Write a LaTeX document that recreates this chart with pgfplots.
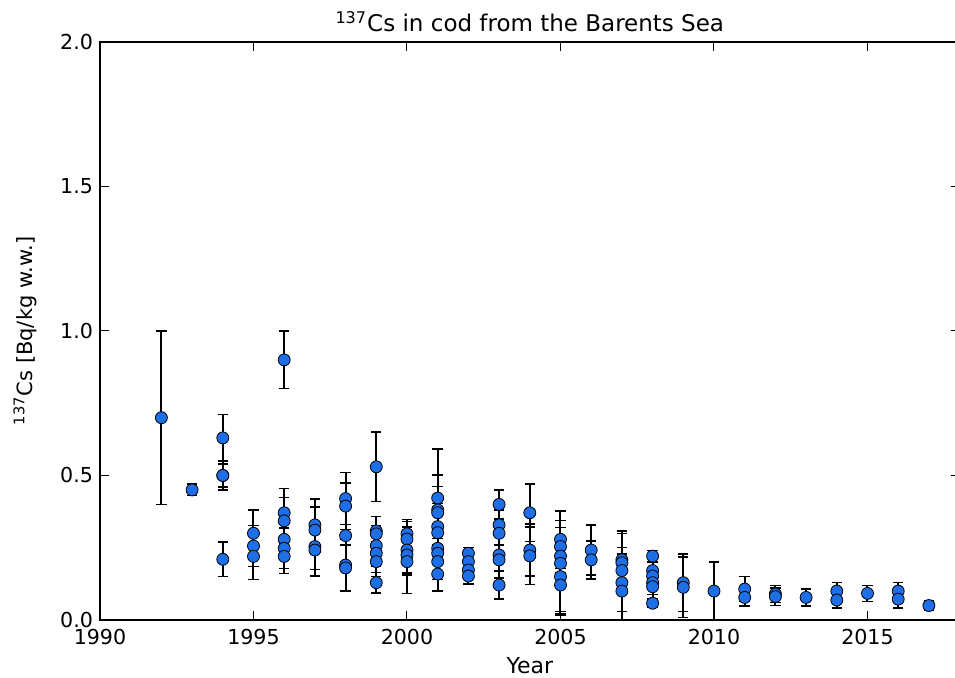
\documentclass[border=0pt]{standalone}
\usepackage{pgfplots}
\pgfplotsset{compat=1.18}
\usepackage{pgfplotstable}
\usepackage{fontspec}
\setmainfont{DejaVu Sans}
\definecolor{cblue}{RGB}{30,110,230}

% year, Cs-137 (Bq/kg w.w.), uncertainty
\pgfplotstableread{
x y e
1992 0.70 0.30
1993 0.45 0.02
1994 0.63 0.08
1994 0.50 0.05
1994 0.50 0.04
1994 0.21 0.06
1995 0.30 0.08
1995 0.256 0.07
1995 0.22 0.08
1996 0.90 0.10
1996 0.371 0.085
1996 0.343 0.08
1996 0.279 0.07
1996 0.248 0.07
1996 0.22 0.06
1997 0.329 0.09
1997 0.311 0.08
1997 0.254 0.08
1997 0.242 0.09
1998 0.42 0.09
1998 0.394 0.08
1998 0.292 0.09
1998 0.19 0.09
1998 0.18 0.08
1999 0.53 0.12
1999 0.308 0.05
1999 0.298 0.06
1999 0.257 0.07
1999 0.231 0.08
1999 0.202 0.07
1999 0.129 0.035
2000 0.298 0.05
2000 0.28 0.06
2000 0.242 0.08
2000 0.225 0.07
2000 0.202 0.11
2001 0.422 0.17
2001 0.381 0.12
2001 0.371 0.09
2001 0.323 0.08
2001 0.302 0.09
2001 0.248 0.08
2001 0.231 0.09
2001 0.202 0.10
2001 0.159 0.06
2002 0.231 0.02
2002 0.202 0.03
2002 0.173 0.03
2002 0.152 0.027
2003 0.40 0.05
2003 0.329 0.07
2003 0.30 0.08
2003 0.225 0.08
2003 0.208 0.10
2003 0.121 0.048
2004 0.371 0.10
2004 0.242 0.09
2004 0.222 0.10
2005 0.279 0.10
2005 0.254 0.09
2005 0.221 0.10
2005 0.196 0.18
2005 0.15 0.12
2005 0.121 0.10
2006 0.242 0.087
2006 0.208 0.066
2007 0.208 0.10
2007 0.198 0.11
2007 0.171 0.08
2007 0.129 0.10
2007 0.10 0.20
2008 0.221 0.02
2008 0.171 0.03
2008 0.152 0.03
2008 0.129 0.04
2008 0.115 0.05
2008 0.058 0.015
2009 0.129 0.10
2009 0.113 0.105
2010 0.10 0.10
2011 0.107 0.043
2011 0.078 0.03
2012 0.09 0.03
2012 0.081 0.03
2013 0.078 0.029
2014 0.10 0.029
2014 0.069 0.027
2015 0.092 0.028
2016 0.10 0.029
2016 0.072 0.03
2017 0.05 0.017
}\cstable

\begin{document}
\begin{tikzpicture}
\begin{axis}[
  name=ax,
  scale only axis,
  width=429.8pt, height=289pt,
  xmin=1990, xmax=2018,
  ymin=0, ymax=2,
  xtick={1990,1995,...,2015},
  ytick={0,0.5,...,2},
  tick align=inside,
  major tick length=4.5pt,
  tick style={black, line width=0.5pt},
  axis line style={line width=0.7pt},
  /pgf/number format/assume math mode=true,
  tick label style={font=\fontsize{10.3}{12}\selectfont},
  x tick label style={/pgf/number format/set thousands separator={}, yshift=-1pt},
  y tick label style={/pgf/number format/.cd, fixed, fixed zerofill, precision=1},
  every axis title shift=0pt,
  title={\textsuperscript{137}Cs in cod from the Barents Sea},
  title style={at={(axis description cs:0.5,1)}, anchor=base, yshift=5pt, font=\fontsize{11.5}{13}\selectfont},
  xlabel={Year},
  xlabel style={at={(axis description cs:0.5,0)}, anchor=center, yshift=-23pt, font=\fontsize{11}{13}\selectfont},
  ylabel={\textsuperscript{137}Cs [Bq/kg w.w.]},
  ylabel style={at={(axis description cs:-0.08725,0.5)}, anchor=center, font=\fontsize{10.5}{12}\selectfont},
]
\addplot[only marks, mark=*, mark size=3pt,
  mark options={fill=cblue, draw=black, line width=0.4pt},
  error bars/.cd, y dir=both, y explicit,
  error bar style={black, line width=1pt},
  error mark options={rotate=90, mark size=2.6pt, black, line width=0.7pt}]
  table[x=x, y=y, y error=e] {\cstable};
\end{axis}
\pgfresetboundingbox
\path[use as bounding box] ([shift={(-50pt,-29pt)}]ax.south west) rectangle ([shift={(427.5pt,21pt)}]ax.north west);
\end{tikzpicture}
\end{document}
